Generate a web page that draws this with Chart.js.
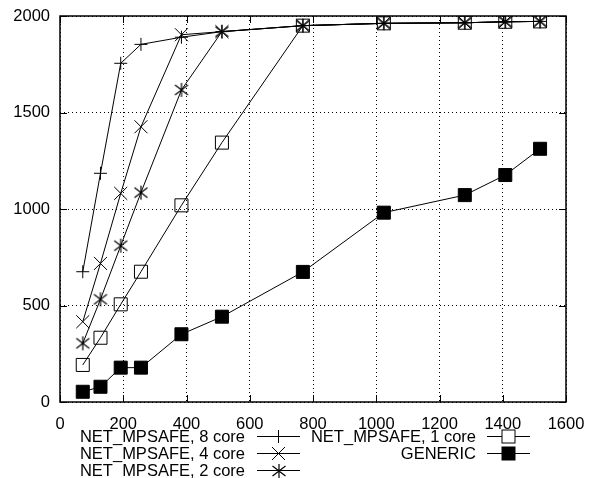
<!DOCTYPE html>
<html>
<head>
<meta charset="utf-8">
<script src="https://cdn.jsdelivr.net/npm/chart.js@4/dist/chart.umd.min.js"></script>
<style>
  body { margin: 0; background: #fff; }
  #wrap { width: 590px; height: 478px; }
</style>
</head>
<body>
<div id="wrap"><canvas id="myChart" width="590" height="478"></canvas></div>
<script>
  // packet sizes (x) and throughput per configuration (y)
  const sizes = [72, 128, 192, 256, 384, 512, 768, 1024, 1280, 1408, 1518];
  const core8 = [675, 1185, 1755, 1853, 1890, 1919, 1950, 1962, 1965, 1970, 1972];
  const core4 = [416, 718, 1081, 1426, 1903, 1919, 1950, 1962, 1965, 1970, 1972];
  const core2 = [304, 532, 810, 1085, 1617, 1919, 1950, 1962, 1965, 1970, 1972];
  const core1 = [192, 333, 506, 675, 1019, 1344, 1950, 1962, 1965, 1970, 1972];
  const generic = [53, 79, 178, 178, 351, 442, 674, 981, 1072, 1176, 1312];

  const xTicks = [0, 200, 400, 600, 800, 1000, 1200, 1400, 1600];
  const yTicks = [0, 500, 1000, 1500, 2000];

  const FONT = "'Liberation Sans', Arial, Helvetica, sans-serif";

  // gnuplot style asterisk: x plus a vertical bar
  const star = document.createElement("canvas");
  star.width = 16;
  star.height = 16;
  (function () {
    const c = star.getContext("2d");
    c.strokeStyle = "#000";
    c.lineWidth = 1.2;
    c.beginPath();
    c.moveTo(8, 1); c.lineTo(8, 15);
    c.moveTo(1.5, 3); c.lineTo(14.5, 13);
    c.moveTo(14.5, 3); c.lineTo(1.5, 13);
    c.stroke();
  })();

  const pts = (ys) => sizes.map((x, i) => ({ x: x, y: ys[i] }));

  const series = [
    { label: "NET_MPSAFE, 8 core", data: core8, style: "cross", radius: 6.5, fill: false },
    { label: "NET_MPSAFE, 4 core", data: core4, style: "crossRot", radius: 9.2, fill: false },
    { label: "NET_MPSAFE, 2 core", data: core2, style: star, radius: 7, fill: false },
    { label: "NET_MPSAFE, 1 core", data: core1, style: "rect", radius: 9.2, fill: false },
    { label: "GENERIC", data: generic, style: "rect", radius: 9.2, fill: true },
  ];

  const legendPos = [
    { tx: 245, lx1: 257, lx2: 300, y: 436 },
    { tx: 245, lx1: 257, lx2: 300, y: 453 },
    { tx: 245, lx1: 257, lx2: 300, y: 470 },
    { tx: 476, lx1: 487, lx2: 530, y: 436 },
    { tx: 476, lx1: 487, lx2: 530, y: 453 },
  ];

  function drawMarker(ctx, s, x, y) {
    ctx.save();
    ctx.strokeStyle = "#000";
    ctx.fillStyle = "#000";
    ctx.lineWidth = 1;
    if (s.style === "cross") {
      ctx.beginPath();
      ctx.moveTo(x - 6.5, y); ctx.lineTo(x + 6.5, y);
      ctx.moveTo(x, y - 6.5); ctx.lineTo(x, y + 6.5);
      ctx.stroke();
    } else if (s.style === "crossRot") {
      ctx.beginPath();
      ctx.moveTo(x - 6.5, y - 6.5); ctx.lineTo(x + 6.5, y + 6.5);
      ctx.moveTo(x + 6.5, y - 6.5); ctx.lineTo(x - 6.5, y + 6.5);
      ctx.stroke();
    } else if (s.style === "rect") {
      if (s.fill) ctx.fillRect(x - 6.5, y - 6.5, 13, 13);
      else { ctx.fillStyle = "#fff"; ctx.fillRect(x - 6.5, y - 6.5, 13, 13); }
      ctx.strokeRect(x - 6.5, y - 6.5, 13, 13);
    } else {
      ctx.drawImage(s.style, Math.round(x - 8), Math.round(y - 8));
    }
    ctx.restore();
  }

  const framePlugin = {
    id: "frame",
    afterDraw(chart) {
      const ctx = chart.ctx;
      const a = chart.chartArea;
      const xs = chart.scales.x, ys = chart.scales.y;
      ctx.save();
      ctx.strokeStyle = "#000";
      // inward tick marks on all four sides
      ctx.lineWidth = 1;
      ctx.beginPath();
      xTicks.forEach((v) => {
        const px = Math.round(xs.getPixelForValue(v)) + 0.5;
        ctx.moveTo(px, a.bottom); ctx.lineTo(px, a.bottom - 7);
        ctx.moveTo(px, a.top); ctx.lineTo(px, a.top + 7);
      });
      yTicks.forEach((v) => {
        const py = Math.round(ys.getPixelForValue(v)) + 0.5;
        ctx.moveTo(a.left, py); ctx.lineTo(a.left + 7, py);
        ctx.moveTo(a.right, py); ctx.lineTo(a.right - 7, py);
      });
      ctx.stroke();
      ctx.lineWidth = 1.5;
      ctx.strokeRect(a.left, a.top, a.right - a.left, a.bottom - a.top);

      // legend, gnuplot layout: text right aligned, then a sample
      ctx.font = "16.5px " + FONT;
      ctx.fillStyle = "#000";
      ctx.textAlign = "right";
      ctx.textBaseline = "middle";
      series.forEach((s, i) => {
        const p = legendPos[i];
        ctx.fillText(s.label, p.tx, p.y + 1);
        ctx.lineWidth = 1;
        ctx.beginPath();
        ctx.moveTo(p.lx1, p.y + 0.5);
        ctx.lineTo(p.lx2, p.y + 0.5);
        ctx.stroke();
        drawMarker(ctx, s, (p.lx1 + p.lx2) / 2, p.y + 0.5);
      });
      ctx.restore();
    },
  };

  const tickFont = { family: FONT, size: 16.5 };

  const config = {
    type: "line",
    data: {
      datasets: series.map((s) => ({
        label: s.label,
        data: pts(s.data),
        borderColor: "#000",
        borderWidth: 1,
        backgroundColor: s.fill ? "#000" : "rgba(0,0,0,0)",
        pointStyle: s.style,
        pointRadius: s.radius,
        pointBorderColor: "#000",
        pointBorderWidth: 1,
        pointBackgroundColor: s.fill ? "#000" : "rgba(0,0,0,0)",
        tension: 0,
      })),
    },
    options: {
      responsive: false,
      animation: false,
      layout: { padding: { left: 0, right: 24, top: 16, bottom: 0 } },
      plugins: { legend: { display: false }, tooltip: { enabled: false } },
      scales: {
        x: {
          type: "linear",
          min: 0,
          max: 1600,
          afterFit: (sc) => { sc.height = 76; sc.paddingLeft = 0; sc.paddingRight = 0; },
          afterBuildTicks: (sc) => { sc.ticks = xTicks.map((v) => ({ value: v })); },
          ticks: { color: "#000", font: tickFont, padding: 13, maxRotation: 0, callback: (v) => String(v) },
          grid: { color: "#000", lineWidth: 1, drawTicks: false },
          border: { display: false, dash: [1, 3] },
        },
        y: {
          min: 0,
          max: 2000,
          afterFit: (sc) => { sc.width = 60; sc.paddingTop = 0; sc.paddingBottom = 0; },
          afterBuildTicks: (sc) => { sc.ticks = yTicks.map((v) => ({ value: v })); },
          ticks: { color: "#000", font: tickFont, padding: 10, callback: (v) => String(v) },
          grid: { color: "#000", lineWidth: 1, drawTicks: false },
          border: { display: false, dash: [1, 3] },
        },
      },
    },
    plugins: [framePlugin],
  };

  const myChart = new Chart(document.getElementById("myChart"), config);
</script>
</body>
</html>
